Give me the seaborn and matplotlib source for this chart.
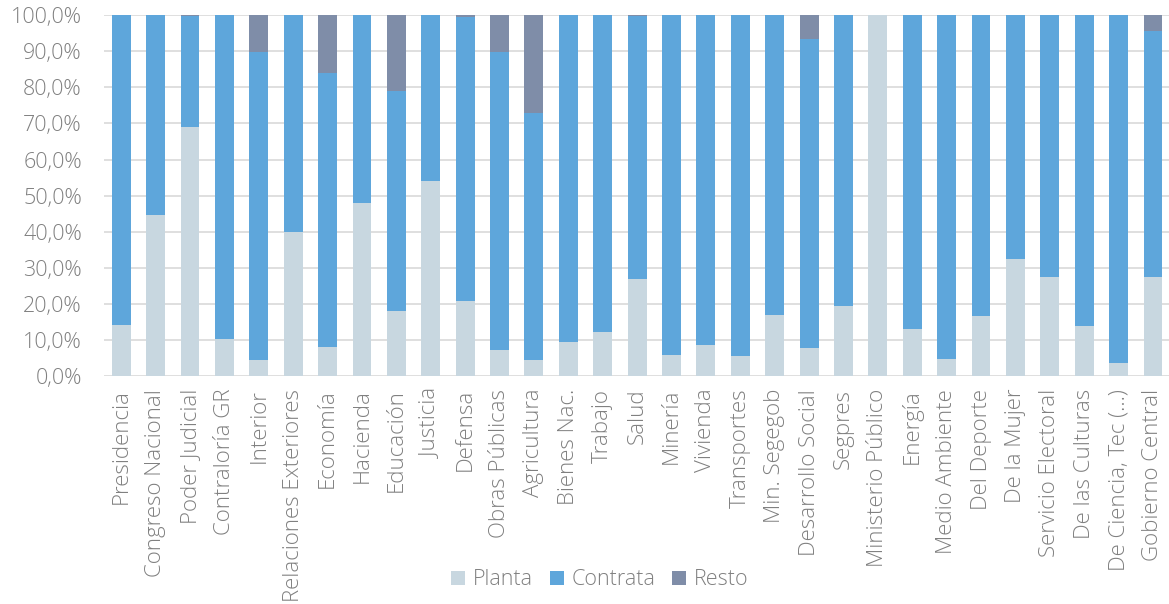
import matplotlib
matplotlib.use("Agg")
import matplotlib.pyplot as plt
from matplotlib.patches import Patch
from matplotlib.ticker import FuncFormatter, MultipleLocator
import numpy as np
import pandas as pd
import seaborn as sns

categorias = [
    "Presidencia", "Congreso Nacional", "Poder Judicial", "Contraloría GR",
    "Interior", "Relaciones Exteriores", "Economía", "Hacienda", "Educación",
    "Justicia", "Defensa", "Obras Públicas", "Agricultura", "Bienes Nac.",
    "Trabajo", "Salud", "Minería", "Vivienda", "Transportes", "Min. Segegob",
    "Desarrollo Social", "Segpres", "Ministerio Público", "Energía",
    "Medio Ambiente", "Del Deporte", "De la Mujer", "Servicio Electoral",
    "De las Culturas", "De Ciencia, Tec (...)", "Gobierno Central",
]
planta = [14.2, 44.6, 69.1, 10.4, 4.4, 40.0, 8.1, 48.1, 18.0, 54.2, 20.8,
          7.4, 4.4, 9.4, 12.3, 26.9, 6.0, 8.8, 5.5, 16.9, 7.7, 19.4, 100.0,
          13.0, 4.8, 16.6, 32.5, 27.5, 14.0, 3.7, 27.5]
resto = [0.0, 0.0, 0.3, 0.0, 10.3, 0.0, 16.0, 0.0, 21.0, 0.0, 0.4, 10.3,
         27.1, 0.0, 0.0, 0.3, 0.0, 0.0, 0.0, 0.0, 6.5, 0.0, 0.0, 0.0, 0.0,
         0.0, 0.0, 0.0, 0.0, 0.0, 4.3]
contrata = [round(100.0 - p - r, 1) for p, r in zip(planta, resto)]

series = ["Planta", "Contrata", "Resto"]
colores = {"Planta": "#C8D7E0", "Contrata": "#5EA6DB", "Resto": "#7F8DA8"}
gris_texto = "#808080"

df = pd.DataFrame({"categoria": categorias, "Planta": planta,
                   "Contrata": contrata, "Resto": resto})
df["acum_contrata"] = df["Planta"] + df["Contrata"]
df["acum_resto"] = df["acum_contrata"] + df["Resto"]

sns.set_theme(style="white")
plt.rcParams["font.family"] = ["Open Sans", "DejaVu Sans"]

fig = plt.figure(figsize=(11.69, 6.04), dpi=100)
ax = fig.add_axes([0.089, 0.377, 0.912, 0.598])

# Stacked bars: draw cumulative totals back to front
for col, serie in [("acum_resto", "Resto"), ("acum_contrata", "Contrata"),
                   ("Planta", "Planta")]:
    sns.barplot(data=df, x="categoria", y=col, color=colores[serie],
                saturation=1, width=0.55, ax=ax, zorder=3, linewidth=0)

ax.set_ylim(0, 100)
ax.set_xlim(-0.5, len(categorias) - 0.5)
ax.yaxis.set_major_locator(MultipleLocator(10))
ax.yaxis.set_major_formatter(FuncFormatter(lambda v, _: f"{v:.1f}%".replace(".", ",")))
ax.grid(axis="y", color="#D9D9D9", linewidth=1.2, zorder=0)
ax.set_axisbelow(True)
for s in ax.spines.values():
    s.set_visible(False)
ax.set_xlabel("")
ax.set_ylabel("")
ax.tick_params(axis="y", length=0, pad=16, labelsize=15.5, labelcolor=gris_texto)
ax.tick_params(axis="x", length=0, pad=9, labelsize=16, labelcolor=gris_texto)
ax.set_xticks(range(len(categorias)))
ax.set_xticklabels(categorias, rotation=90, ha="center", va="top")
for t in ax.get_xticklabels() + ax.get_yticklabels():
    t.set_fontweight("light")

handles = [Patch(facecolor=colores[s], edgecolor="none", label=s) for s in series]
leg = fig.legend(handles=handles, loc="center", bbox_to_anchor=(0.513, 0.04),
                 ncol=3, frameon=False, fontsize=15.5, handlelength=0.65,
                 handleheight=0.65, handletextpad=0.35, columnspacing=0.8)
for t in leg.get_texts():
    t.set_color(gris_texto)
    t.set_fontweight("light")

fig.savefig("out.png", dpi=100)
